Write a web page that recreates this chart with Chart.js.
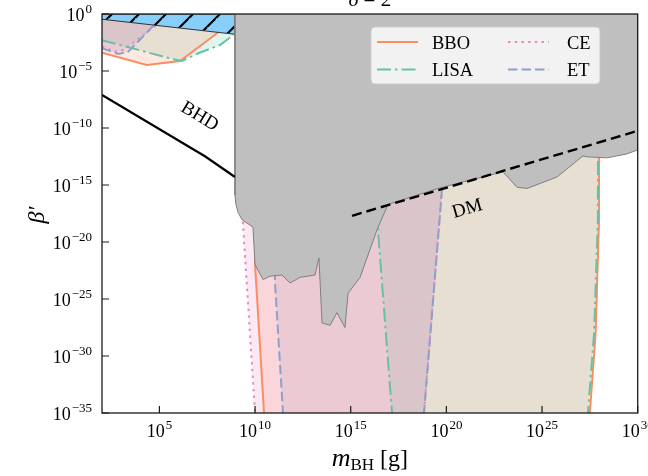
<!DOCTYPE html>
<html>
<head>
<meta charset="utf-8">
<script src="https://cdn.jsdelivr.net/npm/chart.js@4.4.0/dist/chart.umd.min.js"></script>
<style>
  html, body { margin: 0; padding: 0; background: #fff; }
  #wrap { width: 648px; height: 476px; }
</style>
</head>
<body>
<div id="wrap"><canvas id="chart" width="648" height="476"></canvas></div>
<script>
// all values are log10 exponents
const xTicks = [5, 10, 15, 20, 25, 30];
const yTicks = [0, -5, -10, -15, -20, -25, -30, -35];
const legendLabels = ['BBO', 'LISA', 'CE', 'ET'];

// grey constraint region
const greyM = [8.95, 8.95, 9.0, 9.11, 9.32, 9.63, 9.89, 10.0, 10.42, 10.78, 11.41, 11.83, 12.35, 13.13, 13.34, 13.5, 13.92, 14.28, 14.7, 14.86, 15.49, 16.38, 16.95, 19.67, 22.96, 23.69, 24.22, 25.78, 27.14, 27.35, 28.4, 29.44, 30, 30];
const greyB = [0, -15.9, -16.7, -17.4, -18.05, -18.4, -18.7, -22.0, -23.3, -23.0, -22.9, -23.6, -23.1, -22.9, -21.4, -27.1, -27.3, -26.2, -27.5, -24.5, -23.1, -18.9, -16.7, -15.25, -13.85, -15.2, -15.3, -14.3, -12.45, -12.53, -12.62, -12.27, -11.92, 0];

// BHD line and DM line
const bhdM = [2, 7.4, 8.95];
const bhdB = [-7.1, -12.5, -14.3];
const dmM = [15.07, 30];
const dmB = [-17.7, -10.25];

// hatched excluded band at the top left
const exclM = [2, 8.95, 8.95, 2];
const exclB = [-0.46, -1.78, 0, 0];

// detectors: low-mass curve, left and right walls of the high-mass band
const bboLowM = [2, 4.34, 6.08, 8.05];
const bboLowB = [-3.4, -4.47, -4.12, -1.64];
const bboLeftM = [10.0, 10.0, 10.47, 10.5];
const bboLeftB = [0, -22.0, -35, -36];
const bboRightM = [27.98, 27.98, 27.8, 27.5, 27.48];
const bboRightB = [0, -18, -28, -35, -36];

const lisaLowM = [2, 5.73, 6.17, 7.1, 8.17, 8.9];
const lisaLowB = [-2.3, -3.97, -4.12, -3.4, -2.72, -1.8];
const lisaLeftM = [16.43, 16.43, 17.16, 17.2];
const lisaLeftB = [0, -19.1, -35, -36];
const lisaRightM = [27.93, 27.92, 27.72, 27.4, 27.38];
const lisaRightB = [0, -18, -28, -35, -36];

const ceLowM = [2, 2.68, 3.11, 4.86];
const ceLowB = [-2.86, -3.3, -3.16, -0.96];
const ceLeftM = [9.37, 9.37, 10.0, 10.03];
const ceLeftB = [0, -18.5, -35, -36];
const ceRightM = [19.77, 19.77, 18.83, 18.78];
const ceRightB = [0, -15.4, -35, -36];

const etLowM = [2, 2.85, 3.35, 4.7];
const etLowB = [-3.0, -3.5, -3.35, -1.0];
const etLeftM = [11.04, 11.04, 11.46, 11.5];
const etLeftB = [0, -23.5, -35, -36];
const etRightM = [19.77, 19.77, 18.83, 18.78];
const etRightB = [0, -15.4, -35, -36];

const colors = { BBO: '#fc8d62', LISA: '#66c2a5', CE: '#e78ac3', ET: '#8da0cb' };
const dashes = { BBO: [], LISA: [14, 4, 2.5, 4], CE: [2.5, 4.2], ET: [9.5, 4] };
const serif = '"Liberation Serif", "DejaVu Serif", serif';

const pts = (m, b) => m.map((v, i) => ({ x: 10 ** v, y: 10 ** b[i] }));
const rgba = (hex, a) => {
  const n = parseInt(hex.slice(1), 16);
  return `rgba(${n >> 16},${(n >> 8) & 255},${n & 255},${a})`;
};

function fillSet(points, color, order) {
  return { data: points, showLine: true, fill: 'shape', backgroundColor: color,
    borderColor: 'rgba(0,0,0,0)', borderWidth: 1, pointRadius: 0, order };
}
function lineSet(points, color, dash, width, order) {
  return { data: points, showLine: true, fill: false, borderColor: color,
    borderDash: dash, borderWidth: width, pointRadius: 0, order };
}

function detector(name, lowM, lowB, leftM, leftB, rightM, rightB, order) {
  const c = colors[name];
  const low = pts(lowM, lowB);
  const lowPoly = low.concat([{ x: 10 ** lowM[lowM.length - 1], y: 1 }, { x: 10 ** lowM[0], y: 1 }]);
  const left = pts(leftM, leftB), right = pts(rightM, rightB);
  const highPoly = left.slice().reverse().concat(right);
  return [
    fillSet(lowPoly, rgba(c, 0.2), 100),
    fillSet(highPoly, rgba(c, 0.2), 100),
    lineSet(low, c, dashes[name], 2, order),
    lineSet(left, c, dashes[name], 2, order),
    lineSet(right, c, dashes[name], 2, order)
  ];
}

// hatch pattern for the excluded band
const tile = document.createElement('canvas');
tile.width = 27; tile.height = 27;
const tc = tile.getContext('2d');
tc.fillStyle = '#87cefa';
tc.fillRect(0, 0, 27, 27);
tc.strokeStyle = '#000';
tc.lineWidth = 2.2;
tc.beginPath();
tc.moveTo(18, 0); tc.lineTo(0, 18);
tc.moveTo(27, 18); tc.lineTo(18, 27);
tc.moveTo(-9, 0); tc.lineTo(0, -9);
tc.moveTo(45, 0); tc.lineTo(0, 45);
tc.stroke();
const hatch = tc.createPattern(tile, 'repeat');

const datasets = [
  ...detector('CE', ceLowM, ceLowB, ceLeftM, ceLeftB, ceRightM, ceRightB, 92),
  ...detector('BBO', bboLowM, bboLowB, bboLeftM, bboLeftB, bboRightM, bboRightB, 91),
  ...detector('LISA', lisaLowM, lisaLowB, lisaLeftM, lisaLeftB, lisaRightM, lisaRightB, 90),
  ...detector('ET', etLowM, etLowB, etLeftM, etLeftB, etRightM, etRightB, 89),
  { data: pts(exclM, exclB), showLine: true, fill: 'shape', backgroundColor: hatch,
    borderColor: '#333', borderWidth: 1, pointRadius: 0, order: 60 },
  { data: pts(greyM, greyB), showLine: true, fill: 'shape', backgroundColor: '#bfbfbf',
    borderColor: '#7f7f7f', borderWidth: 1, pointRadius: 0, order: 50 },
  lineSet(pts(bhdM, bhdB), '#000', [], 2.2, 40),
  lineSet(pts(dmM, dmB), '#000', [10, 5], 2.4, 40)
];

function powLabel(ctx, exp, x, y, align) {
  const sup = String(exp).replace('-', '\u2212');
  ctx.font = '18px ' + serif;
  const wb = ctx.measureText('10').width;
  ctx.font = '13px ' + serif;
  const ws = ctx.measureText(sup).width;
  const w = wb + 1 + ws;
  const x0 = align === 'center' ? x - w / 2 : x - w;
  ctx.textAlign = 'left';
  ctx.textBaseline = 'alphabetic';
  ctx.font = '18px ' + serif;
  ctx.fillText('10', x0, y);
  ctx.font = '13px ' + serif;
  ctx.fillText(sup, x0 + wb + 1, y - 8.5);
}

const decor = {
  id: 'decor',
  afterDraw(chart) {
    const ctx = chart.ctx;
    const a = chart.chartArea;
    const sx = chart.scales.x, sy = chart.scales.y;
    ctx.save();
    ctx.fillStyle = '#000';

    // labels on the curves
    ctx.font = '19px ' + serif;
    ctx.textAlign = 'center';
    ctx.textBaseline = 'middle';
    ctx.save();
    ctx.translate(sx.getPixelForValue(10 ** 7.1), sy.getPixelForValue(10 ** -9.0));
    ctx.rotate(31 * Math.PI / 180);
    ctx.fillText('BHD', 0, 0);
    ctx.restore();
    ctx.save();
    ctx.translate(sx.getPixelForValue(10 ** 21.1), sy.getPixelForValue(10 ** -17.1));
    ctx.rotate(-16 * Math.PI / 180);
    ctx.fillText('DM', 0, 0);
    ctx.restore();

    // legend
    const lx = 371, ly = 27, lw = 229, lh = 57;
    ctx.beginPath();
    ctx.roundRect(lx, ly, lw, lh, 4);
    ctx.fillStyle = 'rgba(255,255,255,0.8)';
    ctx.fill();
    ctx.strokeStyle = '#cccccc';
    ctx.lineWidth = 1;
    ctx.stroke();
    const slots = [[377, 42], [377, 69.5], [508, 42], [508, 69.5]];
    legendLabels.forEach((name, i) => {
      const [hx, hy] = slots[i];
      ctx.beginPath();
      ctx.setLineDash(dashes[name]);
      ctx.strokeStyle = colors[name];
      ctx.lineWidth = 2;
      ctx.moveTo(hx, hy);
      ctx.lineTo(hx + 41, hy);
      ctx.stroke();
      ctx.setLineDash([]);
      ctx.fillStyle = '#000';
      ctx.font = '18.5px ' + serif;
      ctx.textAlign = 'left';
      ctx.textBaseline = 'alphabetic';
      ctx.fillText(name, i < 2 ? 432 : 567, hy + 6.5);
    });

    // frame and inward ticks
    ctx.strokeStyle = '#1a1a1a';
    ctx.lineWidth = 1.3;
    ctx.strokeRect(a.left, a.top, a.right - a.left, a.bottom - a.top);
    ctx.lineWidth = 1.2;
    ctx.beginPath();
    xTicks.forEach(e => {
      const px = sx.getPixelForValue(10 ** e);
      ctx.moveTo(px, a.bottom);
      ctx.lineTo(px, a.bottom - 7);
    });
    yTicks.forEach(e => {
      const py = sy.getPixelForValue(10 ** e);
      ctx.moveTo(a.left, py);
      ctx.lineTo(a.left + 7, py);
    });
    ctx.stroke();

    ctx.fillStyle = '#000';
    xTicks.forEach(e => powLabel(ctx, e, sx.getPixelForValue(10 ** e), a.bottom + 24, 'center'));
    yTicks.forEach(e => powLabel(ctx, e, a.left - 10, sy.getPixelForValue(10 ** e) + 7, 'right'));

    // axis titles
    ctx.textAlign = 'left';
    ctx.textBaseline = 'alphabetic';
    ctx.font = 'italic 26px ' + serif;
    const wm = ctx.measureText('m').width;
    ctx.font = '17px ' + serif;
    const wbh = ctx.measureText('BH').width;
    ctx.font = '24px ' + serif;
    const wg = ctx.measureText(' [g]').width;
    let tx = (a.left + a.right) / 2 - (wm + wbh + wg) / 2;
    const ty = 466;
    ctx.font = 'italic 26px ' + serif;
    ctx.fillText('m', tx, ty);
    ctx.font = '17px ' + serif;
    ctx.fillText('BH', tx + wm, ty + 4);
    ctx.font = '24px ' + serif;
    ctx.fillText(' [g]', tx + wm + wbh, ty);

    ctx.save();
    ctx.translate(44, 215);
    ctx.rotate(-Math.PI / 2);
    ctx.font = 'italic 24px ' + serif;
    ctx.textAlign = 'center';
    ctx.fillText('\u03b2\u2032', 0, 0);
    ctx.restore();

    // title, mostly above the canvas edge
    ctx.font = 'italic 21px ' + serif;
    const wd = ctx.measureText('\u03b4').width;
    ctx.font = '21px ' + serif;
    const wr = ctx.measureText(' = 2').width;
    const t0 = (a.left + a.right) / 2 - (wd + wr) / 2;
    ctx.font = 'italic 21px ' + serif;
    ctx.fillText('\u03b4', t0, 5.5);
    ctx.font = '21px ' + serif;
    ctx.fillText(' = 2', t0 + wd, 5.5);

    ctx.restore();
  }
};

new Chart(document.getElementById('chart').getContext('2d'), {
  type: 'scatter',
  data: { datasets },
  options: {
    responsive: false,
    animation: false,
    layout: { padding: { left: 102, right: 10.3, top: 14, bottom: 63 } },
    scales: {
      x: { type: 'logarithmic', min: 1e2, max: 1e30, display: false },
      y: { type: 'logarithmic', min: 1e-35, max: 1, display: false }
    },
    plugins: { legend: { display: false }, tooltip: { enabled: false } }
  },
  plugins: [decor]
});
</script>
</body>
</html>
